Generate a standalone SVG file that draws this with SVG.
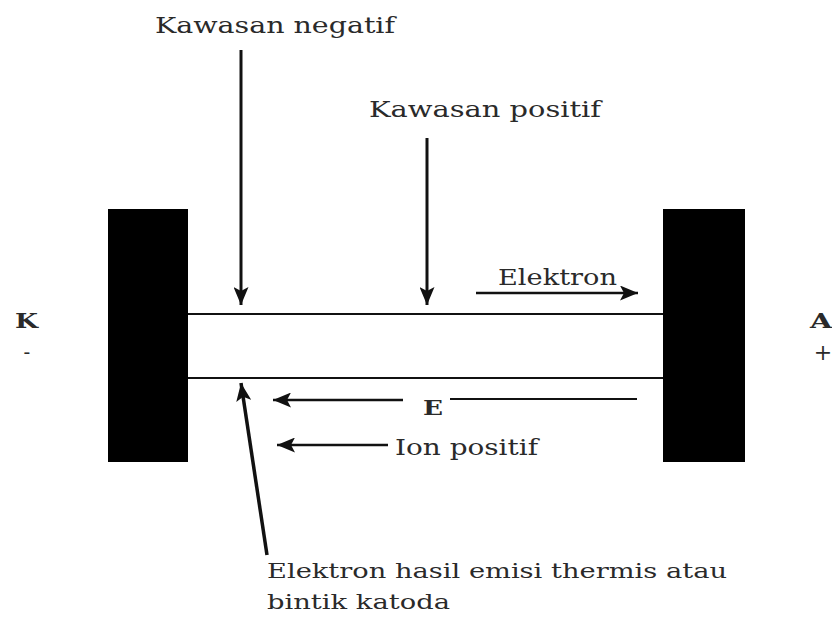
<svg xmlns="http://www.w3.org/2000/svg" width="832" height="619" viewBox="0 0 832 619">
<style>
.t{font-family:"DejaVu Serif","Liberation Serif",serif;fill:#2a2a2a;}
.b{font-weight:bold;}
.ln{stroke:#111;fill:none;}
</style>
<defs>
<marker id="ah" viewBox="0 0 18 15" refX="18" refY="7.5" markerWidth="18" markerHeight="15" markerUnits="userSpaceOnUse" orient="auto">
<path d="M0,0 L18,7.5 L0,15 L4,7.5 z" fill="#111"/>
</marker>
</defs>
<rect width="832" height="619" fill="#fff"/>
<g id="cathode"><rect x="108" y="209" width="80" height="253" fill="#000"/></g>
<g id="anode"><rect x="663" y="209" width="82" height="253" fill="#000"/></g>
<g id="labelK">
<text class="t b" x="15" y="328" font-size="20" textLength="23" lengthAdjust="spacingAndGlyphs">K</text>
<text class="t" x="27" y="359" font-size="20" text-anchor="middle">-</text>
</g>
<g id="labelA">
<text class="t b" x="810" y="328" font-size="20" textLength="22" lengthAdjust="spacingAndGlyphs">A</text>
<text class="t" x="823" y="360" font-size="22" text-anchor="middle">+</text>
</g>
<g id="connectors">
<line class="ln" x1="188" y1="314" x2="663" y2="314" stroke-width="1.8"/>
<line class="ln" x1="188" y1="378" x2="663" y2="378" stroke-width="2.2" stroke="#333"/>
<line class="ln" x1="241" y1="50" x2="241" y2="305" stroke-width="3" marker-end="url(#ah)"/>
<line class="ln" x1="427" y1="138" x2="427" y2="305" stroke-width="3" marker-end="url(#ah)"/>
<line class="ln" x1="476" y1="293" x2="638" y2="293" stroke-width="2.5" marker-end="url(#ah)"/>
<line class="ln" x1="403" y1="400" x2="273" y2="400" stroke-width="2.5" marker-end="url(#ah)"/>
<line class="ln" x1="450" y1="399" x2="637" y2="399" stroke-width="2" stroke="#444"/>
<line class="ln" x1="388" y1="445" x2="277" y2="445" stroke-width="2.5" marker-end="url(#ah)"/>
<line class="ln" x1="267" y1="555" x2="241" y2="383" stroke-width="3.5" marker-end="url(#ah)"/>
</g>
<g id="kawasan-negatif"><text class="t" x="155" y="33" font-size="22" textLength="240" lengthAdjust="spacingAndGlyphs">Kawasan negatif</text></g>
<g id="kawasan-positif"><text class="t" x="369" y="117" font-size="22" textLength="232" lengthAdjust="spacingAndGlyphs">Kawasan positif</text></g>
<g id="elektron"><text class="t" x="498" y="285" font-size="22" textLength="119" lengthAdjust="spacingAndGlyphs">Elektron</text></g>
<g id="e-field"><text class="t b" x="423" y="415" font-size="20" textLength="20" lengthAdjust="spacingAndGlyphs">E</text></g>
<g id="ion-positif"><text class="t" x="395" y="455" font-size="22" textLength="143" lengthAdjust="spacingAndGlyphs">Ion positif</text></g>
<g id="emisi">
<text class="t" x="267" y="578" font-size="20" textLength="460" lengthAdjust="spacingAndGlyphs">Elektron hasil emisi thermis atau</text>
<text class="t" x="267" y="609" font-size="20" textLength="183" lengthAdjust="spacingAndGlyphs">bintik katoda</text>
</g>
</svg>
